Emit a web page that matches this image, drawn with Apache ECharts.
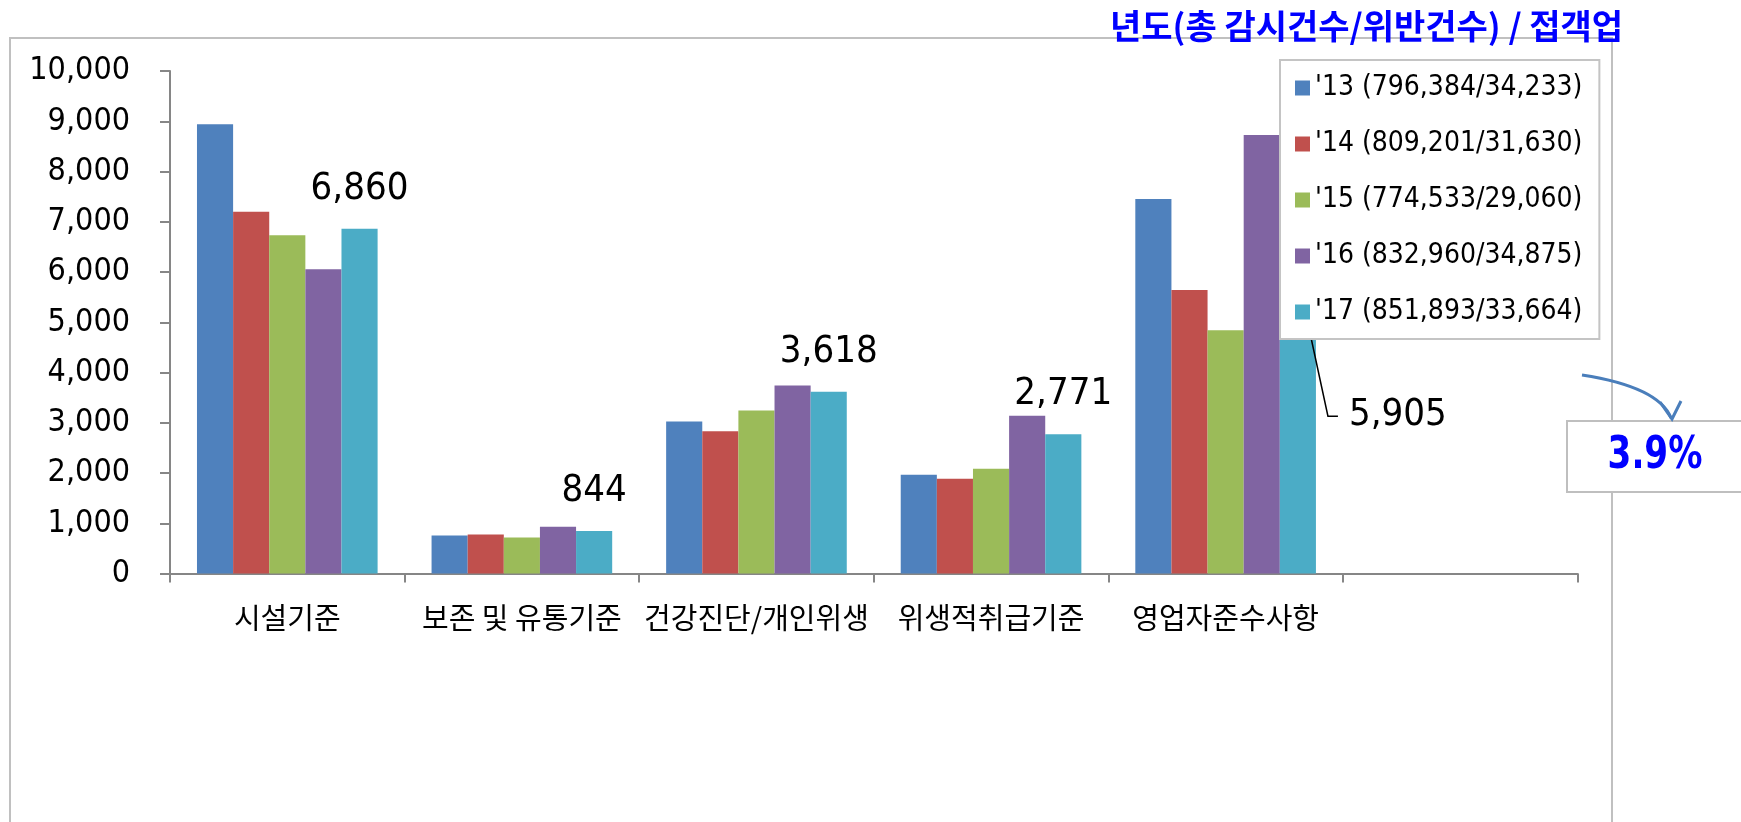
<!DOCTYPE html>
<html>
<head>
<meta charset="utf-8">
<script src="https://cdn.jsdelivr.net/npm/echarts@6/dist/echarts.min.js"></script>
<style>
	html, body { margin: 0; padding: 0; background: #fff; }
	#chart { width: 1741px; height: 822px; }
</style>
</head>
<body>
<div id="chart"></div>
<script>
	// 업종: 접객업, 연도별 위반 유형 건수
	var categories = ['시설기준', '보존 및 유통기준', '건강진단/개인위생', '위생적취급기준', '영업자준수사항', ''];
	var seriesNames = ["'13 (796,384/34,233)", "'14 (809,201/31,630)", "'15 (774,533/29,060)", "'16 (832,960/34,875)", "'17 (851,893/33,664)"];
	var y13 = [8940, 757, 3025, 1966, 7455];
	var y14 = [7200, 777, 2830, 1888, 5640];
	var y15 = [6730, 717, 3245, 2085, 4840];
	var y16 = [6055, 930, 3740, 3140, 8725];
	var y17 = [6860, 844, 3618, 2771, 5905];
	var colors = ['#4f81bd', '#c0504d', '#9bbb59', '#8064a2', '#4bacc6'];
	var titleText = '년도(총 감시건수/위반건수) / 접객업';
	var changeText = '3.9%';

	var numFont = 'DejaVu Sans Condensed';
	var korFont = 'Noto Sans CJK KR';
	var axisGray = '#868686';
	var leaderRect = null;

	function fmt(v) {
		return Number(v).toLocaleString('en-US');
	}

	function makeBar(i, data) {
		return {
			name: seriesNames[i],
			type: 'bar',
			data: data,
			barGap: '0%',
			barCategoryGap: '23%',
			itemStyle: { color: colors[i] }
		};
	}

	var series = [
		makeBar(0, y13),
		makeBar(1, y14),
		makeBar(2, y15),
		makeBar(3, y16),
		makeBar(4, y17)
	];
	// '17 값 라벨
	series[4].label = {
		show: true,
		position: 'top',
		distance: 21,
		color: '#000',
		fontFamily: numFont,
		fontSize: 38,
		formatter: function (p) { return fmt(p.value); }
	};
	series[4].labelLayout = function (p) {
		if (p.dataIndex === 4) {
			leaderRect = p.rect;
			return {
				x: p.rect.x + p.rect.width + 33,
				y: p.rect.y + 138,
				align: 'left',
				verticalAlign: 'middle'
			};
		}
	};

	var chart = echarts.init(document.getElementById('chart'));
	var option = {
		animation: false,
		title: {
			text: titleText,
			left: 1110,
			top: 9,
			padding: 0,
			textStyle: {
				color: '#0000ff',
				fontSize: 34,
				fontWeight: 'bold',
				fontFamily: korFont
			}
		},
		grid: {
			left: 170,
			right: 163.5,
			top: 71,
			bottom: 248.5,
			containLabel: false
		},
		legend: {
			orient: 'vertical',
			left: 1280,
			top: 60,
			padding: [14, 17, 13, 15],
			itemGap: 28,
			itemWidth: 15,
			itemHeight: 15,
			icon: 'rect',
			backgroundColor: '#fff',
			borderColor: '#c4c4c4',
			borderWidth: 2,
			borderRadius: 0,
			data: seriesNames,
			textStyle: {
				color: '#000',
				fontFamily: numFont,
				fontSize: 28,
				lineHeight: 28
			}
		},
		xAxis: {
			type: 'category',
			data: categories,
			axisLine: { show: true, lineStyle: { color: axisGray, width: 2 } },
			axisTick: { show: true, interval: 0, length: 9, lineStyle: { color: axisGray, width: 2 } },
			axisLabel: {
				interval: 0,
				margin: 30,
				color: '#000',
				fontFamily: korFont,
				fontSize: 29
			}
		},
		yAxis: {
			type: 'value',
			min: 0,
			max: 10000,
			interval: 1000,
			axisLine: { show: true, lineStyle: { color: axisGray, width: 2 } },
			axisTick: { show: true, length: 10, lineStyle: { color: axisGray, width: 2 } },
			axisLabel: {
				margin: 40,
				color: '#000',
				fontFamily: numFont,
				fontSize: 32,
				formatter: fmt
			},
			splitLine: { show: false }
		},
		series: series,
		graphic: [
			{
				type: 'rect',
				silent: true,
				z: 0,
				shape: { x: 10, y: 38, width: 1602, height: 830 },
				style: { fill: 'none', stroke: '#c0c0c0', lineWidth: 2 }
			},
			{
				type: 'rect',
				silent: true,
				z: 5,
				shape: { x: 1567, y: 421, width: 200, height: 71 },
				style: { fill: '#fff', stroke: '#bfbfbf', lineWidth: 2 }
			},
			{
				type: 'text',
				silent: true,
				z: 6,
				x: 1655,
				y: 456,
				scaleY: 1.18,
				style: {
					text: changeText,
					fill: '#0000ff',
					font: 'bold 38px "DejaVu Sans Condensed"',
					align: 'center',
					verticalAlign: 'middle'
				}
			},
			{
				type: 'bezierCurve',
				silent: true,
				z: 6,
				shape: { x1: 1582, y1: 375, x2: 1671, y2: 418, cpx1: 1659, cpy1: 387 },
				style: { fill: 'none', stroke: '#4a7ebb', lineWidth: 3 }
			},
			{
				type: 'polyline',
				silent: true,
				z: 6,
				shape: { points: [[1660, 402], [1672, 419], [1681, 401]] },
				style: { fill: 'none', stroke: '#4a7ebb', lineWidth: 3 }
			}
		]
	};
	chart.setOption(option);

	// 5,905 라벨 지시선
	if (leaderRect) {
		var r = leaderRect;
		var lx = r.x + r.width + 33;
		var ly = r.y + 139.5;
		chart.setOption({
			graphic: [{
				id: 'leader',
				type: 'polyline',
				silent: true,
				z: 3,
				shape: { points: [[r.x + r.width / 2, r.y], [lx - 21, ly], [lx - 11, ly]] },
				style: { fill: 'none', stroke: '#000', lineWidth: 1.5 }
			}]
		});
	}
</script>
</body>
</html>
